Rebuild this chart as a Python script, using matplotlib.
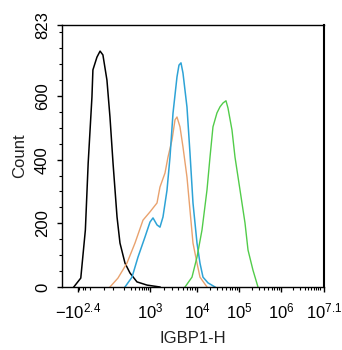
import numpy as np
import matplotlib
matplotlib.use("Agg")
import matplotlib.pyplot as plt

plt.rcParams['font.family'] = ['Liberation Sans', 'DejaVu Sans']
plt.rcParams['mathtext.fontset'] = 'custom'
plt.rcParams['mathtext.rm'] = 'Liberation Sans'
plt.rcParams['mathtext.it'] = 'Liberation Sans:italic'

# fluorescence intensity (IGBP1-H) and event counts
black_x = [-363, -144, -51, -18, 6, 9, 22, 33, 44, 62, 78, 97, 127, 154, 212, 290, 448, 831, 1630]
black_y = [0, 28, 179, 389, 597, 682, 722, 741, 729, 650, 534, 389, 220, 138, 75, 44, 16, 6, 0]

orange_x = [78, 135, 240, 396, 649, 1000, 1410, 1630, 2085, 2415, 2940, 3405, 3752,
            4346, 5032, 6122, 7090, 8215, 10000, 11775, 17290]
orange_y = [0, 28, 75, 138, 210, 236, 264, 314, 358, 408, 462, 525, 534,
            503, 440, 345, 242, 138, 75, 31, 0]

blue_x = [212, 329, 477, 734, 1000, 1159, 1410, 1630, 1890, 2300, 2664, 3087, 3752,
          4137, 4565, 5032, 6122, 7090, 8215, 10000, 11775, 13890, 18265, 26825]
blue_y = [0, 31, 94, 157, 204, 217, 195, 188, 220, 304, 408, 546, 660,
          697, 704, 672, 565, 421, 264, 138, 75, 31, 13, 0]

green_x = [5560, 7830, 10000, 13150, 17300, 20400, 24000, 29900, 35300, 41600, 49000,
           54700, 68100, 80300, 105600, 139000, 164000, 215000, 283000]
green_y = [0, 31, 94, 179, 305, 408, 503, 547, 566, 578, 585,
           562, 493, 408, 305, 201, 116, 53, 0]

xtick_vals = [-10 ** 2.4, 1e3, 1e4, 1e5, 1e6, 10 ** 7.1]
xtick_labels = [r'$\mathregular{-10^{2.4}}$', r'$\mathregular{10^{3}}$', r'$\mathregular{10^{4}}$',
                r'$\mathregular{10^{5}}$', r'$\mathregular{10^{6}}$', r'$\mathregular{10^{7.1}}$']

# logicle-like axis: asinh transform, piecewise matched to the plot's decade positions
W = 50.0
anchor_x = np.array([-1000, -10 ** 2.4, 0, 1e3, 1e4, 1e5, 1e6, 10 ** 7.1])
anchor_u = np.arcsinh(anchor_x / W)
anchor_p = np.array([62, 78, 90, 150, 197, 239, 281, 324], dtype=float)


def fwd(x):
    return np.interp(np.arcsinh(np.asarray(x, dtype=float) / W), anchor_u, anchor_p)


def inv(p):
    return W * np.sinh(np.interp(np.asarray(p, dtype=float), anchor_p, anchor_u))


fig = plt.figure(figsize=(3.42, 3.5), dpi=100)
ax = fig.add_axes([62 / 342, 1 - 287 / 350, 262 / 342, 262 / 350])
ax.set_xscale('function', functions=(fwd, inv))

ax.plot(black_x, black_y, color='black', lw=1.1)
ax.plot(orange_x, orange_y, color='#e9a26e', lw=1.0)
ax.plot(blue_x, blue_y, color='#2ea3d6', lw=1.1)
ax.plot(green_x, green_y, color='#52cc4a', lw=1.0)

ax.set_xlim(-1000, 10 ** 7.1)
ax.set_ylim(0, 823)

ax.set_xticks(xtick_vals)
ax.set_xticklabels(xtick_labels, fontsize=12)
minor = [-200, -100, -50, 0, 50, 100]
minor += [k * 100 for k in range(2, 10)]
for d in range(3, 7):
    minor += [k * 10 ** d for k in range(2, 10)]
minor += [1e7]
ax.set_xticks(minor, minor=True)

ax.set_yticks([0, 200, 400, 600, 823])
ax.set_yticklabels(['0', '200', '400', '600', '823'], rotation=90, va='center', fontsize=12)
ax.set_yticks(np.arange(0, 823, 50), minor=True)

ax.tick_params(which='major', direction='out', length=3.6, width=1, color='black')
ax.tick_params(which='minor', direction='out', length=2.2, width=0.8, color='black')
ax.tick_params(axis='x', pad=7)
ax.tick_params(axis='y', pad=5)

for s in ax.spines.values():
    s.set_linewidth(1.0)
ax.spines['right'].set_linewidth(1.5)

ax.set_xlabel('IGBP1-H', fontsize=12, color='#222222', labelpad=6.5)
ax.set_ylabel('Count', fontsize=12, color='#222222', labelpad=6)

fig.savefig('out.png', dpi=100)
